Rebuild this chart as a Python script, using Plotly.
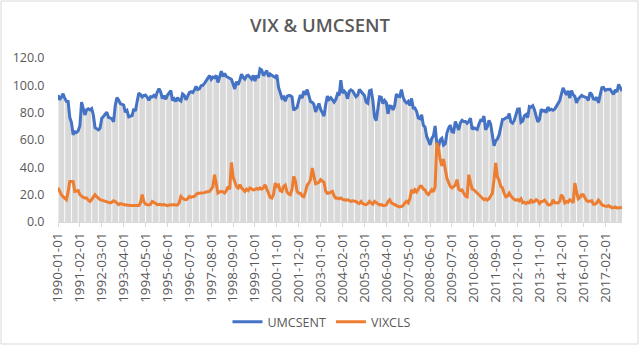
import plotly.graph_objects as go
import pandas as pd

months = pd.date_range("1990-01-01", periods=336, freq="MS").strftime("%Y-%m-%d").tolist()

umcsent = [
    93.0, 89.5, 91.3, 93.9, 90.6, 88.3, 88.2, 76.4, 72.8, 63.9, 66.0, 65.5,
    66.8, 70.4, 87.7, 81.8, 78.3, 82.1, 82.9, 82.0, 83.0, 78.3, 69.1, 68.2,
    67.5, 68.8, 76.0, 77.2, 79.2, 80.4, 76.6, 76.1, 75.6, 73.3, 85.3, 91.0,
    89.3, 86.6, 85.9, 85.6, 80.3, 81.5, 77.0, 77.3, 77.9, 82.7, 81.2, 88.2,
    94.3, 93.2, 91.5, 92.6, 92.8, 91.2, 89.0, 91.7, 91.5, 92.7, 91.6, 95.1,
    97.6, 95.1, 90.3, 92.5, 89.8, 92.7, 94.4, 96.2, 88.9, 90.2, 88.2, 91.0,
    89.3, 88.5, 93.7, 92.7, 89.4, 92.4, 94.7, 95.3, 94.7, 96.5, 99.2, 96.9,
    97.4, 99.7, 100.0, 101.4, 103.2, 104.5, 107.1, 104.4, 106.0, 105.6, 107.2, 102.1,
    106.6, 110.4, 106.5, 108.7, 106.5, 105.6, 105.2, 104.4, 100.9, 97.4, 102.7, 100.5,
    103.9, 108.1, 105.7, 104.6, 106.8, 107.3, 106.0, 104.5, 107.2, 103.2, 107.2, 105.4,
    112.0, 111.3, 107.1, 109.2, 110.7, 106.4, 108.3, 107.3, 106.8, 105.8, 107.6, 98.4,
    94.7, 90.6, 91.5, 88.4, 92.0, 92.6, 92.4, 91.5, 81.8, 82.7, 83.9, 88.8,
    93.0, 90.7, 95.7, 93.0, 96.9, 92.4, 88.1, 87.6, 86.1, 80.6, 84.2, 86.7,
    82.4, 79.9, 77.6, 86.0, 92.1, 89.7, 90.9, 89.3, 87.7, 89.6, 93.7, 92.6,
    103.8, 94.4, 95.8, 94.2, 90.2, 95.6, 96.7, 95.9, 94.2, 91.7, 92.8, 97.1,
    95.5, 94.1, 92.6, 87.7, 86.9, 96.0, 96.5, 89.1, 76.9, 74.2, 81.6, 91.5,
    91.2, 86.7, 88.9, 87.4, 79.1, 84.9, 84.7, 82.0, 85.4, 93.6, 92.1, 91.7,
    96.9, 91.3, 88.4, 87.1, 88.3, 85.3, 90.4, 83.4, 83.4, 80.9, 76.1, 75.5,
    78.4, 70.8, 69.5, 62.6, 59.8, 56.4, 61.2, 63.0, 70.3, 57.6, 55.3, 60.1,
    61.2, 56.3, 57.3, 65.1, 68.7, 70.8, 66.0, 65.7, 73.5, 70.6, 67.4, 72.5,
    74.4, 73.6, 73.6, 72.2, 73.6, 76.0, 67.8, 68.9, 68.2, 67.7, 71.6, 74.5,
    74.2, 77.5, 67.5, 69.8, 74.3, 71.5, 63.7, 55.8, 59.5, 60.8, 63.7, 69.9,
    75.0, 75.3, 76.2, 76.4, 79.3, 73.2, 72.3, 74.3, 78.3, 82.6, 82.7, 72.9,
    73.8, 77.6, 78.6, 76.4, 84.5, 84.1, 85.1, 82.1, 77.5, 73.2, 75.1, 82.5,
    81.2, 81.6, 80.0, 84.1, 81.9, 82.5, 81.8, 82.5, 84.6, 86.9, 88.8, 93.6,
    98.1, 95.4, 93.0, 95.9, 90.7, 96.1, 93.1, 91.9, 87.2, 90.0, 91.3, 92.6,
    92.0, 91.7, 91.0, 89.0, 94.7, 93.5, 90.0, 89.8, 91.2, 87.2, 93.8, 98.2,
    98.5, 96.3, 96.9, 97.0, 97.1, 95.0, 93.4, 96.8, 95.1, 100.7, 98.5, 95.9,
]

vixcls = [
    25.0, 22.0, 20.0, 18.5, 17.0, 16.3, 22.0, 29.7, 29.7, 29.7, 22.4, 22.5,
    23.0, 20.0, 18.7, 18.0, 17.5, 17.5, 16.0, 15.1, 16.5, 18.5, 20.0, 18.5,
    17.0, 16.3, 16.0, 15.5, 15.0, 14.5, 14.0, 13.9, 14.5, 15.5, 15.0, 13.5,
    12.7, 13.5, 13.0, 12.5, 12.5, 12.5, 12.0, 12.0, 12.0, 12.0, 11.5, 11.5,
    12.0, 14.0, 20.0, 15.0, 13.0, 12.7, 12.5, 13.0, 15.1, 14.5, 13.5, 12.7,
    13.0, 12.7, 12.5, 12.7, 12.5, 12.0, 12.5, 12.7, 12.5, 12.7, 12.5, 12.5,
    14.0, 18.7, 17.5, 16.5, 16.3, 17.0, 18.7, 18.0, 18.5, 18.7, 20.0, 21.0,
    21.0, 21.2, 21.0, 21.5, 22.0, 22.0, 22.4, 24.0, 26.0, 34.6, 27.0, 21.2,
    22.0, 22.4, 22.0, 21.2, 23.0, 26.0, 24.0, 43.6, 33.0, 29.7, 26.0, 24.9,
    27.3, 25.0, 24.0, 22.4, 24.0, 23.0, 24.9, 24.0, 23.5, 23.7, 24.5, 24.0,
    24.9, 24.0, 25.0, 27.3, 24.0, 21.0, 18.0, 17.5, 20.0, 28.5, 26.0, 27.0,
    23.0, 22.4, 26.0, 27.0, 22.0, 20.5, 20.0, 24.0, 33.4, 30.0, 22.4, 21.0,
    21.0, 19.0, 18.5, 22.0, 27.0, 28.5, 31.0, 39.5, 33.0, 28.0, 28.5, 29.0,
    31.0, 30.0, 29.0, 22.5, 21.0, 21.2, 22.0, 22.4, 19.0, 17.5, 17.6, 17.0,
    17.6, 16.5, 16.3, 16.0, 16.3, 15.5, 15.1, 15.5, 15.1, 15.0, 14.0, 13.5,
    15.1, 13.5, 13.0, 12.7, 13.5, 15.1, 14.0, 13.0, 15.1, 14.0, 13.0, 12.5,
    12.7, 12.0, 12.0, 12.5, 15.0, 16.3, 14.0, 13.0, 12.7, 12.0, 11.4, 11.0,
    11.4, 12.0, 14.0, 15.1, 14.0, 17.0, 23.6, 21.1, 23.6, 22.0, 24.0, 26.1,
    26.1, 24.0, 23.6, 21.0, 20.0, 22.0, 23.6, 22.0, 26.0, 58.0, 54.0, 46.0,
    41.0, 46.0, 40.0, 32.0, 29.0, 26.0, 25.0, 26.0, 27.0, 31.0, 24.0, 23.0,
    23.5, 21.0, 19.0, 18.5, 34.6, 29.0, 24.0, 23.6, 22.4, 21.0, 20.0, 19.0,
    17.5, 16.3, 17.0, 16.0, 17.0, 19.0, 21.0, 31.0, 43.2, 33.0, 30.5, 26.0,
    24.9, 21.0, 18.5, 19.0, 21.1, 19.0, 17.5, 16.5, 16.0, 16.3, 15.5, 17.0,
    14.0, 14.5, 13.5, 14.5, 14.0, 16.5, 14.5, 15.0, 16.3, 15.5, 13.5, 15.0,
    15.1, 16.0, 14.5, 12.7, 12.5, 13.0, 16.3, 14.0, 14.0, 13.9, 15.0, 20.0,
    18.0, 14.0, 15.0, 14.5, 16.3, 15.5, 14.0, 28.5, 22.0, 17.0, 18.0, 20.0,
    20.0, 18.0, 15.5, 15.0, 15.0, 15.5, 13.0, 13.0, 14.0, 16.0, 14.5, 12.7,
    12.0, 11.5, 11.4, 12.0, 11.0, 10.5, 10.5, 11.0, 10.2, 10.2, 10.5, 10.7,
]

tick_labels = months[::13]

y_ticks = [0, 20, 40, 60, 80, 100, 120]

TXT = "#595959"
FONT = "Open Sans"

fig = go.Figure()

# gray drop-line area under UMCSENT
fig.add_trace(go.Scatter(
    x=months, y=umcsent, mode="lines", line=dict(width=0, color="#d9d9d9"),
    fill="tozeroy", fillcolor="#d9d9d9", showlegend=False, hoverinfo="skip"))

# white moire stripes in drop lines
sx, sy = [], []
for i in range(0, len(months), 4):
    sx += [months[i], months[i], None]
    sy += [0, umcsent[i], None]
fig.add_trace(go.Scatter(
    x=sx, y=sy, mode="lines", line=dict(width=1, color="rgba(255,255,255,0.9)"),
    showlegend=False, hoverinfo="skip"))

fig.add_trace(go.Scatter(
    x=months, y=umcsent, mode="lines", name="UMCSENT",
    line=dict(color="#4472C4", width=3)))
fig.add_trace(go.Scatter(
    x=months, y=vixcls, mode="lines", name="VIXCLS",
    line=dict(color="#ED7D31", width=3)))

fig.update_layout(
    width=640, height=346, autosize=False,
    margin=dict(l=58, r=18, t=58, b=124, autoexpand=False),
    paper_bgcolor="white", plot_bgcolor="white",
    font=dict(family=FONT, size=12, color=TXT),
    title=dict(text="VIX & UMCSENT", x=0.5, xref="container", xanchor="center",
               y=1 - 26 / 346, yref="container", yanchor="middle",
               font=dict(family=FONT, size=18.5, color=TXT, weight=600)),
    showlegend=True,
    legend=dict(orientation="h", x=(322 - 58) / 564, xanchor="center", xref="paper",
                y=(222 - 322) / 164, yanchor="middle", yref="paper",
                font=dict(size=12.5, color=TXT),
                bgcolor="rgba(0,0,0,0)"),
    xaxis=dict(type="category", range=[0, len(months) - 1], automargin=False,
               tickmode="array", tickvals=tick_labels, ticktext=tick_labels,
               tickangle=-90, ticks="outside", ticklen=4, tickcolor="#d9d9d9",
               showgrid=False, showline=True, linecolor="#d9d9d9", linewidth=1,
               zeroline=False, tickfont=dict(size=13.5, color=TXT)),
    yaxis=dict(range=[0, 120], tickmode="array", tickvals=y_ticks, automargin=False,
               ticktext=[f"{v:.1f}" for v in y_ticks],
               showgrid=False, zeroline=False, showline=False,
               ticks="outside", ticklen=10, tickcolor="rgba(0,0,0,0)",
               tickfont=dict(size=12.5, color=TXT)),
    shapes=[dict(type="rect", xref="paper", yref="paper",
                 x0=(1 - 58) / 564, x1=(638 - 58) / 564,
                 y0=(222 - 344) / 164, y1=(222 - 1) / 164,
                 line=dict(color="#d9d9d9", width=1), fillcolor="rgba(0,0,0,0)",
                 layer="below")],
)

fig.write_html("out.html")
